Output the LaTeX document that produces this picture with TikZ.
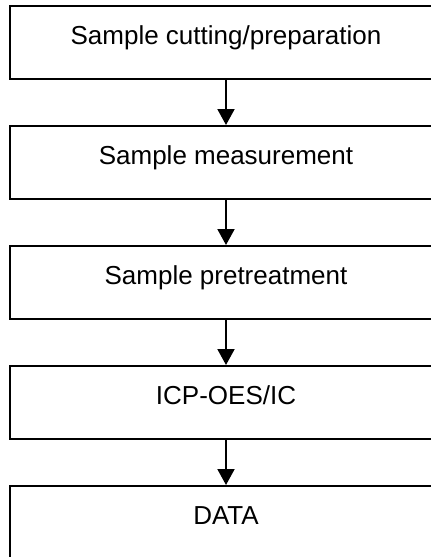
\documentclass[tikz,border=0pt]{standalone}
\usepackage{fontspec}
\setmainfont{Liberation Sans}
\usetikzlibrary{arrows.meta,calc}
\begin{document}
\begin{tikzpicture}[x=1pt,y=-1pt,
  stepbox/.style={draw=black,line width=2pt,minimum width=432pt,minimum height=72.5pt,inner sep=0pt},
  lbl/.style={inner sep=0pt,anchor=base,font=\fontsize{26}{30}\selectfont},
  arr/.style={draw=black,line width=2pt,-{Triangle[length=16pt,width=17pt]}}]
\useasboundingbox (0,0) rectangle (431,557);
\clip (0,0) rectangle (431,557);
\node[stepbox] (b1) at (226,42.25) {};
\node[stepbox] (b2) at (226,162.25) {};
\node[stepbox] (b3) at (226,282.25) {};
\node[stepbox] (b4) at (226,402.25) {};
\node[stepbox] (b5) at (226,522.25) {};
\node[lbl] (t1) at ($(b1.north)+(0,39.5)$) {Sample cutting/preparation};
\node[lbl] (t2) at ($(b2.north)+(0,39.5)$) {Sample measurement};
\node[lbl] (t3) at ($(b3.north)+(0,39.5)$) {Sample pretreatment};
\node[lbl] (t4) at ($(b4.north)+(0,39.5)$) {ICP-OES/IC};
\node[lbl] (t5) at ($(b5.north)+(0,39.5)$) {DATA};
\draw[arr] (b1.south) -- (b2.north);
\draw[arr] (b2.south) -- (b3.north);
\draw[arr] (b3.south) -- (b4.north);
\draw[arr] (b4.south) -- (b5.north);
\end{tikzpicture}
\end{document}
